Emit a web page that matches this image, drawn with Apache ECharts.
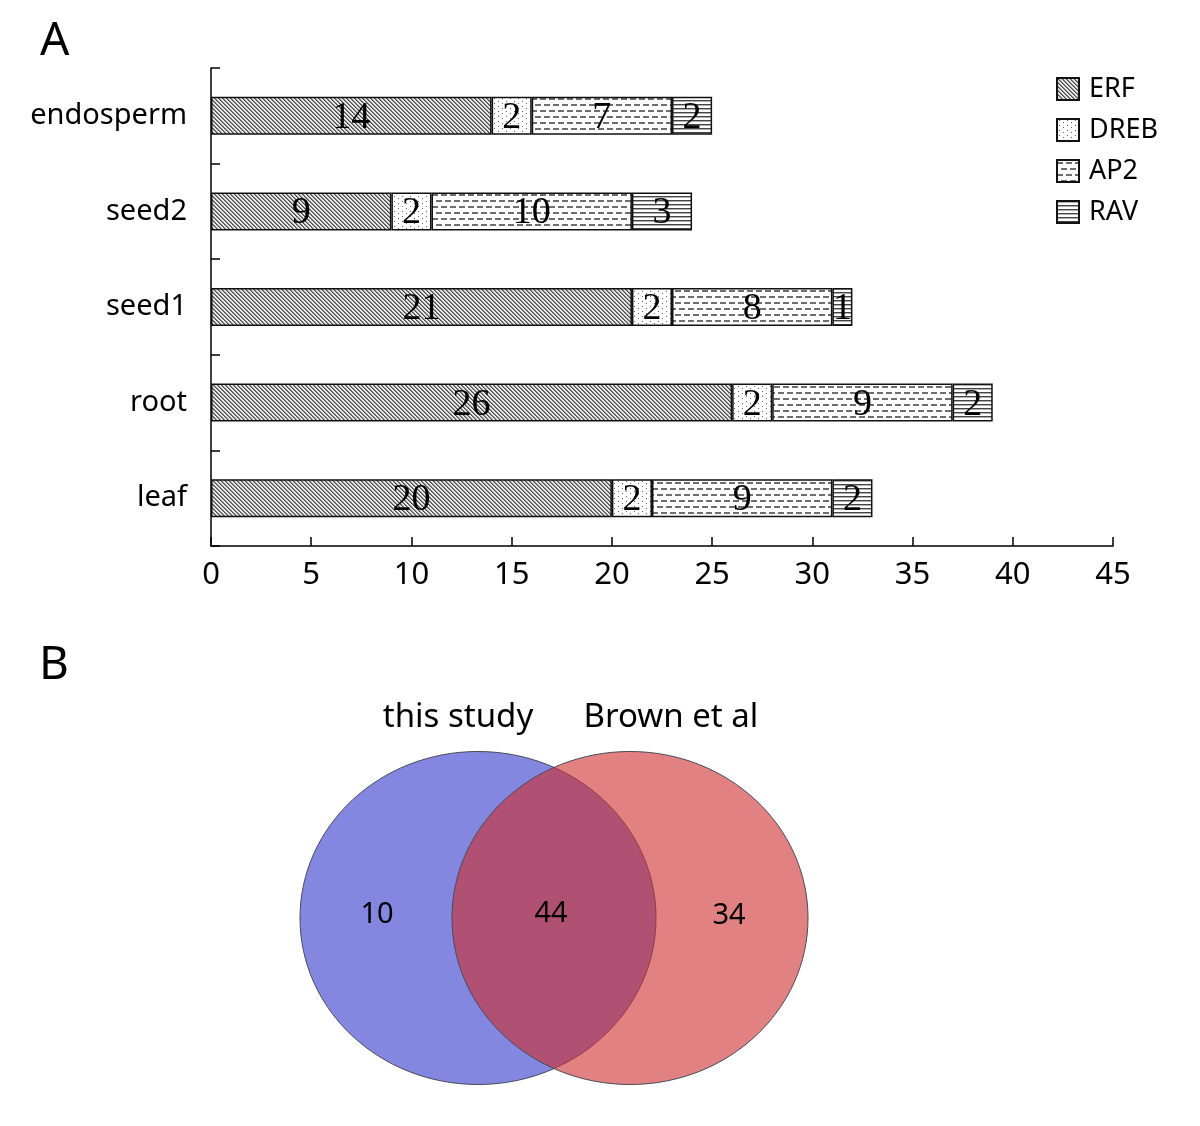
<!DOCTYPE html>
<html>
<head>
<meta charset="utf-8">
<style>
html,body{margin:0;padding:0;background:#fff;}
#chart{width:1200px;height:1126px;}
</style>
<script src="https://cdn.jsdelivr.net/npm/echarts@6/dist/echarts.min.js"></script>
</head>
<body>
<div id="chart"></div>
<script>
// ---- Panel A data ----
const categories = ['endosperm', 'seed2', 'seed1', 'root', 'leaf'];
const seriesNames = ['ERF', 'DREB', 'AP2', 'RAV'];
const erfValues  = [14, 9, 21, 26, 20];
const drebValues = [2, 2, 2, 2, 2];
const ap2Values  = [7, 10, 8, 9, 9];
const ravValues  = [2, 3, 1, 2, 2];
const xTicks = [0, 5, 10, 15, 20, 25, 30, 35, 40, 45];

// ---- Panel B data (Venn) ----
const vennSets = ['this study', 'Brown et al'];
const vennCounts = [10, 44, 34];
// ellipse [cx, cy, rx, ry] in the Venn panel's unit space
const vennCircles = [[180, 238, 178, 166.5], [332, 238, 178, 166.5]];
const vennSetLabelPos = [[160, 38], [373, 38]];
const vennCountPos = [[79, 235], [253, 234], [431, 236]];

// ---- patterns ----
function makeCanvas(w, h, draw) {
  const c = document.createElement('canvas');
  c.width = w; c.height = h;
  const ctx = c.getContext('2d');
  draw(ctx, w, h);
  return c;
}
const patERF = makeCanvas(4, 4, (ctx) => {
  ctx.fillStyle = '#e8e8e8'; ctx.fillRect(0, 0, 4, 4);
  for (let i = 0; i < 4; i++) {
    ctx.fillStyle = '#4a4a4a'; ctx.fillRect(i, i, 1, 1);
    ctx.fillStyle = '#8a8a8a'; ctx.fillRect((i + 1) % 4, i, 1, 1);
  }
});
const patDREB = makeCanvas(8, 10, (ctx) => {
  ctx.fillStyle = '#ffffff'; ctx.fillRect(0, 0, 8, 10);
  ctx.fillStyle = '#666';
  ctx.fillRect(2, 1, 1, 1); ctx.fillRect(2, 6, 1, 1);
  ctx.fillRect(6, 3, 1, 1); ctx.fillRect(6, 8, 1, 1);
});
const patAP2 = makeCanvas(9, 12, (ctx) => {
  ctx.fillStyle = '#ffffff'; ctx.fillRect(0, 0, 9, 12);
  ctx.fillStyle = '#6e6e6e';
  ctx.fillRect(0, 2, 6, 2);
  ctx.fillRect(4, 8, 5, 2); ctx.fillRect(0, 8, 1, 2);
});
const patRAV = makeCanvas(4, 4, (ctx) => {
  ctx.fillStyle = '#ffffff'; ctx.fillRect(0, 0, 4, 4);
  ctx.fillStyle = '#444'; ctx.fillRect(0, 0, 4, 1);
  ctx.fillStyle = '#b0b0b0'; ctx.fillRect(0, 1, 4, 1);
});
const patterns = [patERF, patDREB, patAP2, patRAV];
const values = [erfValues, drebValues, ap2Values, ravValues];

const chart = echarts.init(document.getElementById('chart'));

const barSeries = seriesNames.map((name, i) => ({
  name: name,
  type: 'bar',
  stack: 'total',
  xAxisIndex: 0,
  yAxisIndex: 0,
  barWidth: 38,
  data: values[i],
  itemStyle: {
    color: { image: patterns[i], repeat: 'repeat' },
    borderColor: '#111',
    borderWidth: 1.5
  },
  label: {
    show: true,
    position: 'inside',
    formatter: '{c}',
    color: '#000',
    fontFamily: 'Liberation Serif',
    fontSize: 38,
    offset: [0, 2]
  },
  emphasis: { disabled: true },
  animation: false
}));

const vennColors = ['rgba(48,55,202,0.6)', 'rgba(206,45,45,0.6)'];

const option = {
  backgroundColor: '#fff',
  animation: false,
  title: [
    { text: 'A', left: 40, top: 19, padding: 0, textStyle: { fontFamily: 'Noto Sans', fontSize: 46, fontWeight: 'normal', color: '#000' } },
    { text: 'B', left: 39, top: 643, padding: 0, textStyle: { fontFamily: 'Noto Sans', fontSize: 46, fontWeight: 'normal', color: '#000' } }
  ],
  legend: {
    data: seriesNames,
    orient: 'vertical',
    left: 1056,
    top: 75,
    padding: 0,
    icon: 'rect',
    itemWidth: 22,
    itemHeight: 22,
    itemGap: 13,
    selectedMode: false,
    textStyle: { fontFamily: 'Noto Sans', fontSize: 27, color: '#000', lineHeight: 28, padding: [0, 0, 0, 5] }
  },
  grid: [
    { left: 211, top: 68, width: 902, height: 478 },
    { left: 298, top: 680, width: 510, height: 405 }
  ],
  xAxis: [
    {
      type: 'value', gridIndex: 0, min: 0, max: 45, interval: 5,
      axisLine: { show: true, lineStyle: { color: '#000', width: 1.5 } },
      axisTick: { show: true, inside: true, length: 9, lineStyle: { color: '#000', width: 1.5 } },
      axisLabel: {
        margin: 14, color: '#000', fontFamily: '"Liberation Sans Narrow", "Noto Sans", sans-serif', fontSize: 31,
        formatter: (v) => xTicks.indexOf(v) >= 0 ? String(v) : ''
      },
      splitLine: { show: false }
    },
    { type: 'value', gridIndex: 1, min: 0, max: 510, show: false }
  ],
  yAxis: [
    {
      type: 'category', gridIndex: 0, data: categories, inverse: true,
      axisLine: { show: true, lineStyle: { color: '#000', width: 1.5 } },
      axisTick: { show: true, inside: true, length: 9, lineStyle: { color: '#000', width: 1.5 } },
      axisLabel: { margin: 24, color: '#000', fontFamily: 'Noto Sans', fontSize: 29 },
      splitLine: { show: false }
    },
    { type: 'value', gridIndex: 1, min: 0, max: 405, inverse: true, show: false }
  ],
  series: barSeries.concat([
    {
      type: 'custom',
      name: 'venn',
      xAxisIndex: 1, yAxisIndex: 1,
      data: vennCircles.map((c, i) => c.concat([i])),
      z: 2,
      silent: true,
      renderItem: function (params, api) {
        const c = api.coord([api.value(0), api.value(1)]);
        const s = api.size([api.value(2), api.value(3)]);
        return {
          type: 'ellipse',
          shape: { cx: c[0], cy: c[1], rx: s[0], ry: s[1] },
          style: { fill: vennColors[api.value(4)], stroke: '#4a4a5a', lineWidth: 1 }
        };
      }
    },
    {
      type: 'custom',
      name: 'vennText',
      xAxisIndex: 1, yAxisIndex: 1,
      z: 5,
      silent: true,
      data: vennSetLabelPos.map((p, i) => [p[0], p[1], 0, i]).concat(vennCountPos.map((p, i) => [p[0], p[1], 1, i])),
      renderItem: function (params, api) {
        const c = api.coord([api.value(0), api.value(1)]);
        const kind = api.value(2), idx = api.value(3);
        const txt = kind === 0 ? vennSets[idx] : String(vennCounts[idx]);
        return {
          type: 'text',
          x: c[0], y: c[1],
          style: {
            text: txt,
            fill: '#000',
            fontFamily: 'Noto Sans',
            fontSize: kind === 0 ? 33 : 29,
            align: 'center',
            verticalAlign: 'middle'
          }
        };
      }
    }
  ])
};
chart.setOption(option);
</script>
</body>
</html>
